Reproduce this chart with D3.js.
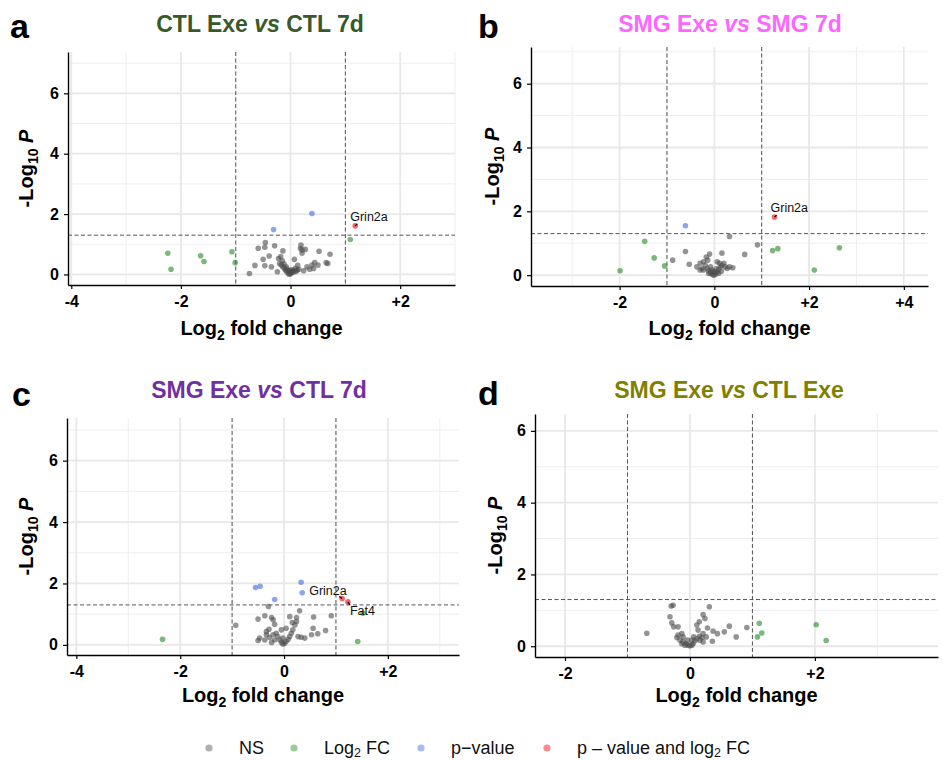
<!DOCTYPE html>
<html>
<head>
<meta charset="utf-8">
<script src="https://cdn.jsdelivr.net/npm/d3@7"></script>
<style>
  body { margin: 0; background: #fff; }
  svg { display: block; font-family: "Liberation Sans", Arial, sans-serif; }
</style>
</head>
<body>
<svg id="chart" width="943" height="760"></svg>
<script>
// thresholds used for colouring (EnhancedVolcano style)
var fcCut = 1, pCut = 1.301;

// [log2FC, -log10 P]
var ctlExeVsCtl7d = [
  [-2.24,0.70],[-2.18,0.17],[-1.64,0.62],[-1.58,0.43],[-1.07,0.75],[-1.01,0.39],[1.09,1.16],
  [-0.31,1.49],[0.39,2.02],[1.18,1.61],
  [-0.75,0.03],[-0.65,0.30],[-0.59,0.87],[-0.47,0.90],[-0.46,1.06],[-0.50,0.50],[-0.47,0.29],
  [-0.39,0.61],[-0.35,0.25],[-0.29,0.95],[-0.24,0.09],[-0.22,0.53],[-0.18,0.59],[-0.14,0.78],
  [-0.20,0.36],[-0.17,0.31],[-0.14,0.25],[-0.11,0.20],[-0.09,0.14],[-0.07,0.09],[-0.04,0.03],
  [-0.02,0.01],[0.01,0.03],[0.03,0.09],[0.05,0.14],[0.07,0.50],[0.09,0.20],[0.12,0.14],
  [0.15,0.17],[0.18,0.86],[0.19,0.97],[0.21,0.81],[0.21,0.70],[0.24,0.12],[0.27,0.83],
  [0.30,0.25],[0.35,0.17],[0.39,0.31],[0.42,0.20],[0.44,0.39],[0.50,0.31],[0.52,0.77],
  [0.65,0.39],[0.68,0.36],[0.72,0.67],[-0.08,0.25],[-0.03,0.12],[-0.12,0.35],[-0.06,0.18],
  [0.00,0.06],[0.02,0.15],[0.06,0.08],[0.10,0.10],[-0.15,0.45],[0.13,0.30],[-0.01,0.10]
];

var smgExeVsSmg7d = [
  [-1.99,0.14],[-1.47,1.06],[-1.27,0.54],[-1.05,0.29],[1.23,0.77],[1.34,0.83],[2.11,0.16],[2.64,0.86],
  [-0.61,1.55],[1.27,1.82],
  [0.32,1.21],[0.91,0.95],[0.64,0.65],[-0.61,0.74],[-0.88,0.47],[-0.53,0.34],[0.16,0.69],
  [-0.10,0.66],[0.39,0.23],[-0.37,0.26],[-0.30,0.37],[-0.23,0.42],[-0.19,0.31],[-0.15,0.21],
  [-0.12,0.14],[-0.08,0.07],[-0.05,0.03],[-0.01,0.00],[0.02,0.03],[0.06,0.10],[0.09,0.18],
  [0.13,0.26],[0.16,0.31],[0.20,0.37],[0.23,0.26],[0.27,0.21],[0.32,0.26],[-0.26,0.21],
  [-0.23,0.16],[-0.14,0.47],[-0.17,0.57],[0.06,0.42],[0.11,0.37],[-0.08,0.26],[-0.05,0.16],
  [-0.30,0.16],[0.09,0.05],[-0.12,0.05],[0.00,0.10],[0.04,0.20],[-0.03,0.12],[0.15,0.12]
];

var smgExeVsCtl7d = [
  [-2.34,0.18],[1.42,0.11],[1.52,1.03],
  [-0.55,1.87],[-0.46,1.91],[-0.18,1.48],[0.33,2.04],[0.35,1.70],
  [1.12,1.51],[1.23,1.40],
  [-0.93,0.64],[-0.30,1.25],[0.30,1.11],[0.91,0.95],[0.57,0.91],[0.80,0.47],[0.65,0.36],
  [0.56,0.54],[-0.50,0.84],[-0.37,0.95],[-0.24,0.89],[-0.21,0.82],[-0.18,0.67],[-0.29,0.51],
  [-0.34,0.43],[-0.50,0.14],[-0.47,0.22],[-0.37,0.16],[-0.28,0.25],[-0.21,0.33],[-0.15,0.38],
  [-0.12,0.27],[-0.08,0.16],[-0.05,0.08],[-0.02,0.03],[0.01,0.05],[0.04,0.11],[0.08,0.18],
  [0.11,0.27],[0.14,0.38],[0.17,0.49],[0.21,0.65],[0.16,0.73],[0.24,0.76],[0.11,0.92],
  [0.24,0.89],[0.27,0.27],[0.33,0.25],[0.40,0.22],[0.53,0.33],[-0.02,0.22],[-0.18,0.16],
  [-0.24,0.08],[-0.34,0.33],[0.04,0.54],[-0.05,0.49]
];

var smgExeVsCtlExe = [
  [1.11,0.64],[1.08,0.26],[1.15,0.37],[2.02,0.60],[2.18,0.16],
  [-0.69,0.36],[-0.30,1.12],[-0.27,1.14],[0.31,1.10],[-0.32,0.82],[-0.29,0.65],[-0.26,0.54],
  [-0.19,0.54],[0.21,0.88],[0.24,0.77],[0.15,0.68],[0.11,0.59],[0.28,0.51],[0.37,0.42],
  [0.44,0.35],[0.55,0.40],[0.63,0.56],[0.74,0.26],[0.91,0.52],[0.36,0.14],[0.13,0.45],
  [0.21,0.35],[0.26,0.26],[-0.19,0.31],[-0.13,0.35],[-0.11,0.26],[-0.16,0.17],[-0.11,0.12],
  [-0.06,0.07],[-0.03,0.03],[0.00,0.01],[0.03,0.03],[0.05,0.07],[0.08,0.15],[0.11,0.21],
  [0.15,0.28],[0.19,0.24],[-0.08,0.03],[-0.13,0.07],[0.16,0.17],[0.21,0.12],[-0.21,0.24],
  [-0.04,0.17],[0.03,0.17],[0.06,0.26]
];

// gene labels: [log2FC, -log10 P, name]
var labelsA = [[1.18, 1.61, "Grin2a"]];
var labelsB = [[1.27, 1.82, "Grin2a"]];
var labelsC = [[1.12, 1.51, "Grin2a"], [1.23, 1.40, "Fat4"]];
var labelsD = [];

var legendNames = ["NS", "Log2 FC", "p\u2212value", "p \u2013 value and log2 FC"];
var catColors = ["#4d4d4d", "#228b22", "#4169e1", "#ee0000"];

var panels = [
  {letter:"a", title:["CTL Exe ","vs"," CTL 7d"], color:"#38592a", data:ctlExeVsCtl7d, labels:labelsA,
   left:68, right:455, top:52, bottom:285, xDom:[-4.06,3.0], yDom:[-0.35,7.37], xTicks:[-4,-2,0,2],
   titleX:260, titleY:32, letterX:10, letterY:38, xTitleY:335, yTitleX:33,
   labOff:[[-5,-5]]},
  {letter:"b", title:["SMG Exe ","vs"," SMG 7d"], color:"#ff66ff", data:smgExeVsSmg7d, labels:labelsB,
   left:531, right:928, top:47, bottom:286, xDom:[-3.87,4.51], yDom:[-0.34,7.15], xTicks:[-2,0,2,4],
   titleX:730, titleY:32, letterX:478, letterY:38, xTitleY:335, yTitleX:499,
   labOff:[[-4,-5]]},
  {letter:"c", title:["SMG Exe ","vs"," CTL 7d"], color:"#7030a0", data:smgExeVsCtl7d, labels:labelsC,
   left:67, right:459, top:418, bottom:655, xDom:[-4.18,3.37], yDom:[-0.33,7.39], xTicks:[-4,-2,0,2],
   titleX:259, titleY:398, letterX:12, letterY:406, xTitleY:702, yTitleX:33,
   labOff:[[-33,-4],[2,13]]},
  {letter:"d", title:["SMG Exe ","vs"," CTL Exe"], color:"#808000", data:smgExeVsCtlExe, labels:labelsD,
   left:535, right:938, top:414, bottom:657, xDom:[-2.48,3.97], yDom:[-0.30,6.47], xTicks:[-2,0,2],
   titleX:729, titleY:398, letterX:478, letterY:405, xTitleY:702, yTitleX:502,
   labOff:[]}
];

var yTicks = [0, 2, 4, 6];

function category(d) {
  var bigFC = Math.abs(d[0]) > fcCut, sig = d[1] > pCut;
  if (bigFC && sig) return 3;
  if (sig) return 2;
  if (bigFC) return 1;
  return 0;
}

function fmtX(v) { return v > 0 ? "+" + v : String(v); }
function fmtY(v) { return String(v); }

var svg = d3.select("#chart");

panels.forEach(function(p) {
  var x = d3.scaleLinear().domain(p.xDom).range([p.left, p.right]);
  var y = d3.scaleLinear().domain(p.yDom).range([p.bottom, p.top]);
  var g = svg.append("g");

  // grid
  var xInts = d3.range(Math.ceil(p.xDom[0]), Math.floor(p.xDom[1]) + 1);
  var xMinor = xInts.filter(function(v){ return Math.abs(v) % 2 == 1; });
  var xMajor = xInts.filter(function(v){ return v % 2 == 0; });
  var yMinor = d3.range(1, Math.floor(p.yDom[1]) + 1, 2);
  g.selectAll(".vmin").data(xMinor).enter().append("line")
    .attr("x1", x).attr("x2", x).attr("y1", p.top).attr("y2", p.bottom)
    .attr("stroke", "#ececec").attr("stroke-width", 0.9);
  g.selectAll(".hmin").data(yMinor).enter().append("line")
    .attr("x1", p.left).attr("x2", p.right).attr("y1", y).attr("y2", y)
    .attr("stroke", "#ececec").attr("stroke-width", 0.9);
  g.selectAll(".vmaj").data(xMajor).enter().append("line")
    .attr("x1", x).attr("x2", x).attr("y1", p.top).attr("y2", p.bottom)
    .attr("stroke", "#e8e8e8").attr("stroke-width", 1.8);
  g.selectAll(".hmaj").data(yTicks).enter().append("line")
    .attr("x1", p.left).attr("x2", p.right).attr("y1", y).attr("y2", y)
    .attr("stroke", "#e8e8e8").attr("stroke-width", 1.8);

  // points
  var pts = p.data.map(function(d){ return {x:d[0], y:d[1], c:category(d)}; })
    .sort(function(a, b){ return a.c - b.c; });
  g.selectAll(".pt").data(pts).enter().append("circle")
    .attr("cx", function(d){ return x(d.x); })
    .attr("cy", function(d){ return y(d.y); })
    .attr("r", 2.8)
    .attr("fill", function(d){ return catColors[d.c]; })
    .attr("fill-opacity", 0.6);

  // threshold lines
  [-fcCut, fcCut].forEach(function(v) {
    g.append("line").attr("x1", x(v)).attr("x2", x(v)).attr("y1", p.top).attr("y2", p.bottom)
      .attr("stroke", "#555").attr("stroke-width", 1).attr("stroke-dasharray", "4,2.5");
  });
  g.append("line").attr("x1", p.left).attr("x2", p.right).attr("y1", y(pCut)).attr("y2", y(pCut))
    .attr("stroke", "#555").attr("stroke-width", 1).attr("stroke-dasharray", "4,2.5");

  // gene labels
  p.labels.forEach(function(l, i) {
    var px = x(l[0]), py = y(l[1]);
    var off = p.labOff[i];
    g.append("line").attr("x1", px).attr("y1", py)
      .attr("x2", px + (off[0] > -10 ? 2 : -3)).attr("y2", py + (off[1] > 0 ? 3 : -2))
      .attr("stroke", "#000").attr("stroke-width", 1.2);
    g.append("text").attr("x", px + off[0]).attr("y", py + off[1])
      .attr("font-size", 12.5).attr("fill", "#111").text(l[2]);
  });

  // axes
  var xa = g.append("g").attr("transform", "translate(0," + p.bottom + ")")
    .call(d3.axisBottom(x).tickValues(p.xTicks).tickFormat(fmtX).tickSize(4).tickSizeOuter(0));
  var ya = g.append("g").attr("transform", "translate(" + p.left + ",0)")
    .call(d3.axisLeft(y).tickValues(yTicks).tickFormat(fmtY).tickSize(4).tickSizeOuter(0));
  [xa, ya].forEach(function(a) {
    a.select(".domain").attr("stroke", "#000").attr("stroke-width", 1.4);
    a.selectAll(".tick line").attr("stroke", "#000").attr("stroke-width", 1.2);
    a.selectAll(".tick text").attr("font-size", 16).attr("font-weight", "bold")
      .attr("font-family", "'Liberation Sans', Arial, sans-serif").attr("fill", "#000");
  });
  xa.selectAll(".tick text").attr("dy", null).attr("y", 22);
  ya.selectAll(".tick text").attr("x", -9);

  // axis titles
  var xt = g.append("text").attr("x", (p.left + p.right) / 2).attr("y", p.xTitleY)
    .attr("text-anchor", "middle").attr("font-size", 20).attr("font-weight", "bold");
  xt.append("tspan").text("Log");
  xt.append("tspan").attr("font-size", 14).attr("dy", 5).text("2");
  xt.append("tspan").attr("dy", -5).text(" fold change");

  var yt = g.append("text")
    .attr("transform", "translate(" + p.yTitleX + "," + ((p.top + p.bottom) / 2) + ") rotate(-90)")
    .attr("text-anchor", "middle").attr("font-size", 20).attr("font-weight", "bold");
  yt.append("tspan").text("-Log");
  yt.append("tspan").attr("font-size", 14).attr("dy", 5).text("10");
  yt.append("tspan").attr("dy", -5).text(" ");
  yt.append("tspan").attr("font-style", "italic").text("P");

  // title + panel letter
  var tt = g.append("text").attr("x", p.titleX).attr("y", p.titleY)
    .attr("text-anchor", "middle").attr("font-size", 23).attr("font-weight", "bold").attr("fill", p.color);
  tt.append("tspan").text(p.title[0]);
  tt.append("tspan").attr("font-style", "italic").text(p.title[1]);
  tt.append("tspan").text(p.title[2]);

  g.append("text").attr("x", p.letterX).attr("y", p.letterY)
    .attr("font-size", 34).attr("font-weight", "bold").attr("fill", "#000").text(p.letter);
});

// legend
var legX = [209, 294, 421, 547];
var leg = svg.append("g");
legendNames.forEach(function(name, i) {
  leg.append("circle").attr("cx", legX[i]).attr("cy", 748).attr("r", 3.6)
    .attr("fill", catColors[i]).attr("fill-opacity", 0.45);
  var t = leg.append("text").attr("x", legX[i] + 30).attr("y", 754)
    .attr("font-size", 18).attr("fill", "#111");
  var parts = name.split("2");
  if (parts.length > 1) {
    t.append("tspan").text(parts[0]);
    t.append("tspan").attr("font-size", 12.5).attr("dy", 3).text("2");
    t.append("tspan").attr("dy", -3).text(parts[1]);
  } else {
    t.text(name);
  }
});
</script>
</body>
</html>
